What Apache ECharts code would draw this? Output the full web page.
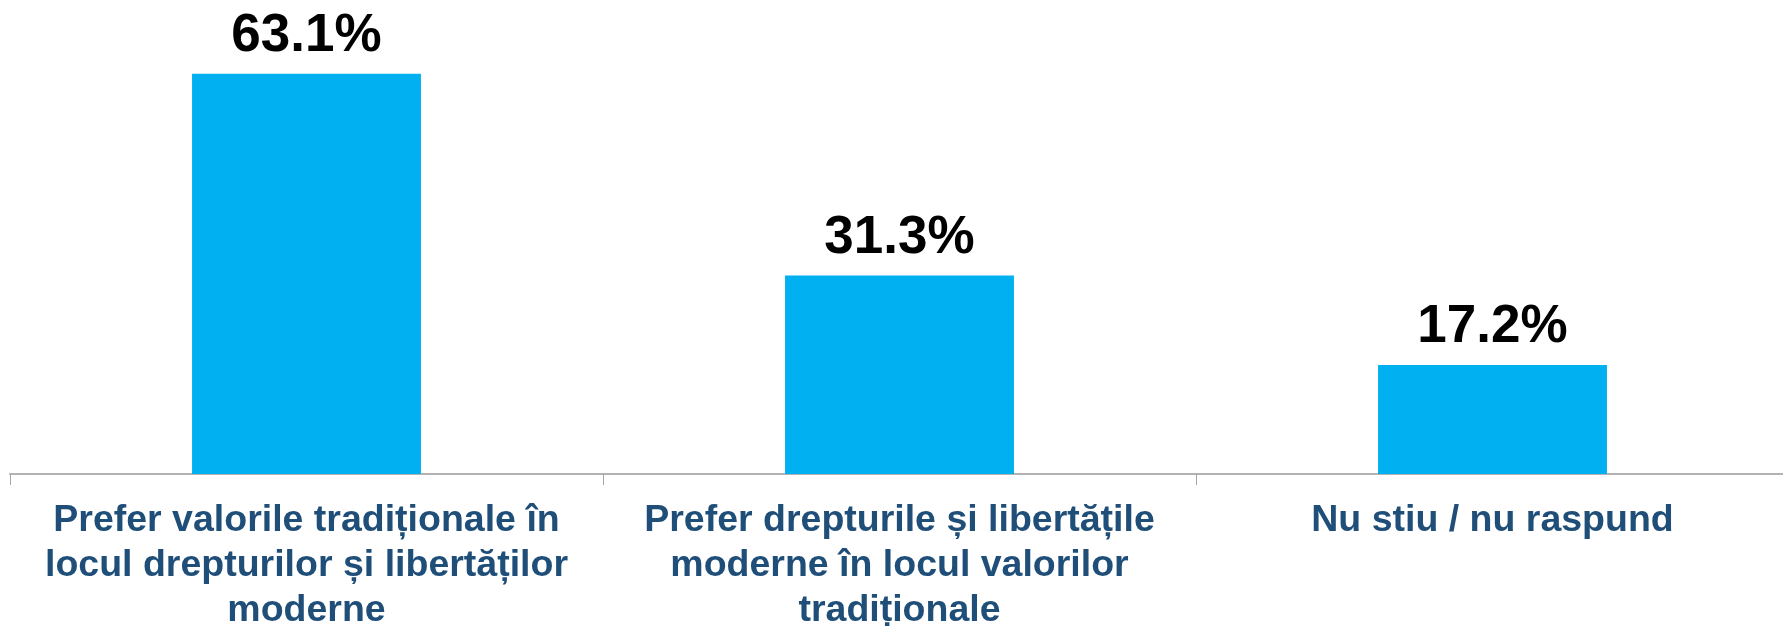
<!DOCTYPE html>
<html>
<head>
<meta charset="utf-8">
<script src="https://cdn.jsdelivr.net/npm/echarts@6/dist/echarts.min.js"></script>
<style>
html,body{margin:0;padding:0;background:#fff;}
#c{width:1783px;height:626px;}
</style>
</head>
<body>
<div id="c"></div>
<script>
const categories = [
  "Prefer valorile tradiționale în\nlocul drepturilor și libertăților\nmoderne",
  "Prefer drepturile și libertățile\nmoderne în locul valorilor\ntradiționale",
  "Nu stiu / nu raspund"
];
const values = [63.1, 31.3, 17.2];

const chart = echarts.init(document.getElementById('c'));
chart.setOption({
  animation: false,
  backgroundColor: '#ffffff',
  grid: { left: 10, width: 1779, top: 30, height: 444, containLabel: false, outerBoundsMode: 'none' },
  xAxis: {
    type: 'category',
    data: categories,
    axisLine: { show: true, lineStyle: { color: '#b3b3b3', width: 2 } },
    axisTick: { show: true, alignWithLabel: false, length: 11, lineStyle: { color: '#a6a6a6', width: 1 } },
    axisLabel: {
      interval: 0,
      margin: 24,
      color: '#1f4e79',
      fontFamily: 'Liberation Sans, Arial, sans-serif',
      fontWeight: 'bold',
      fontSize: 37.5,
      lineHeight: 45
    }
  },
  yAxis: {
    type: 'value',
    min: 0,
    max: 70,
    show: false,
    splitLine: { show: false }
  },
  series: [{
    type: 'bar',
    data: values,
    barWidth: '38.6%',
    itemStyle: { color: '#00b0f0' },
    label: {
      show: true,
      position: 'top',
      distance: 11,
      formatter: p => p.value.toFixed(1) + '%',
      color: '#000000',
      fontFamily: 'Liberation Sans, Arial, sans-serif',
      fontWeight: 'bold',
      fontSize: 53
    }
  }]
});
</script>
</body>
</html>
